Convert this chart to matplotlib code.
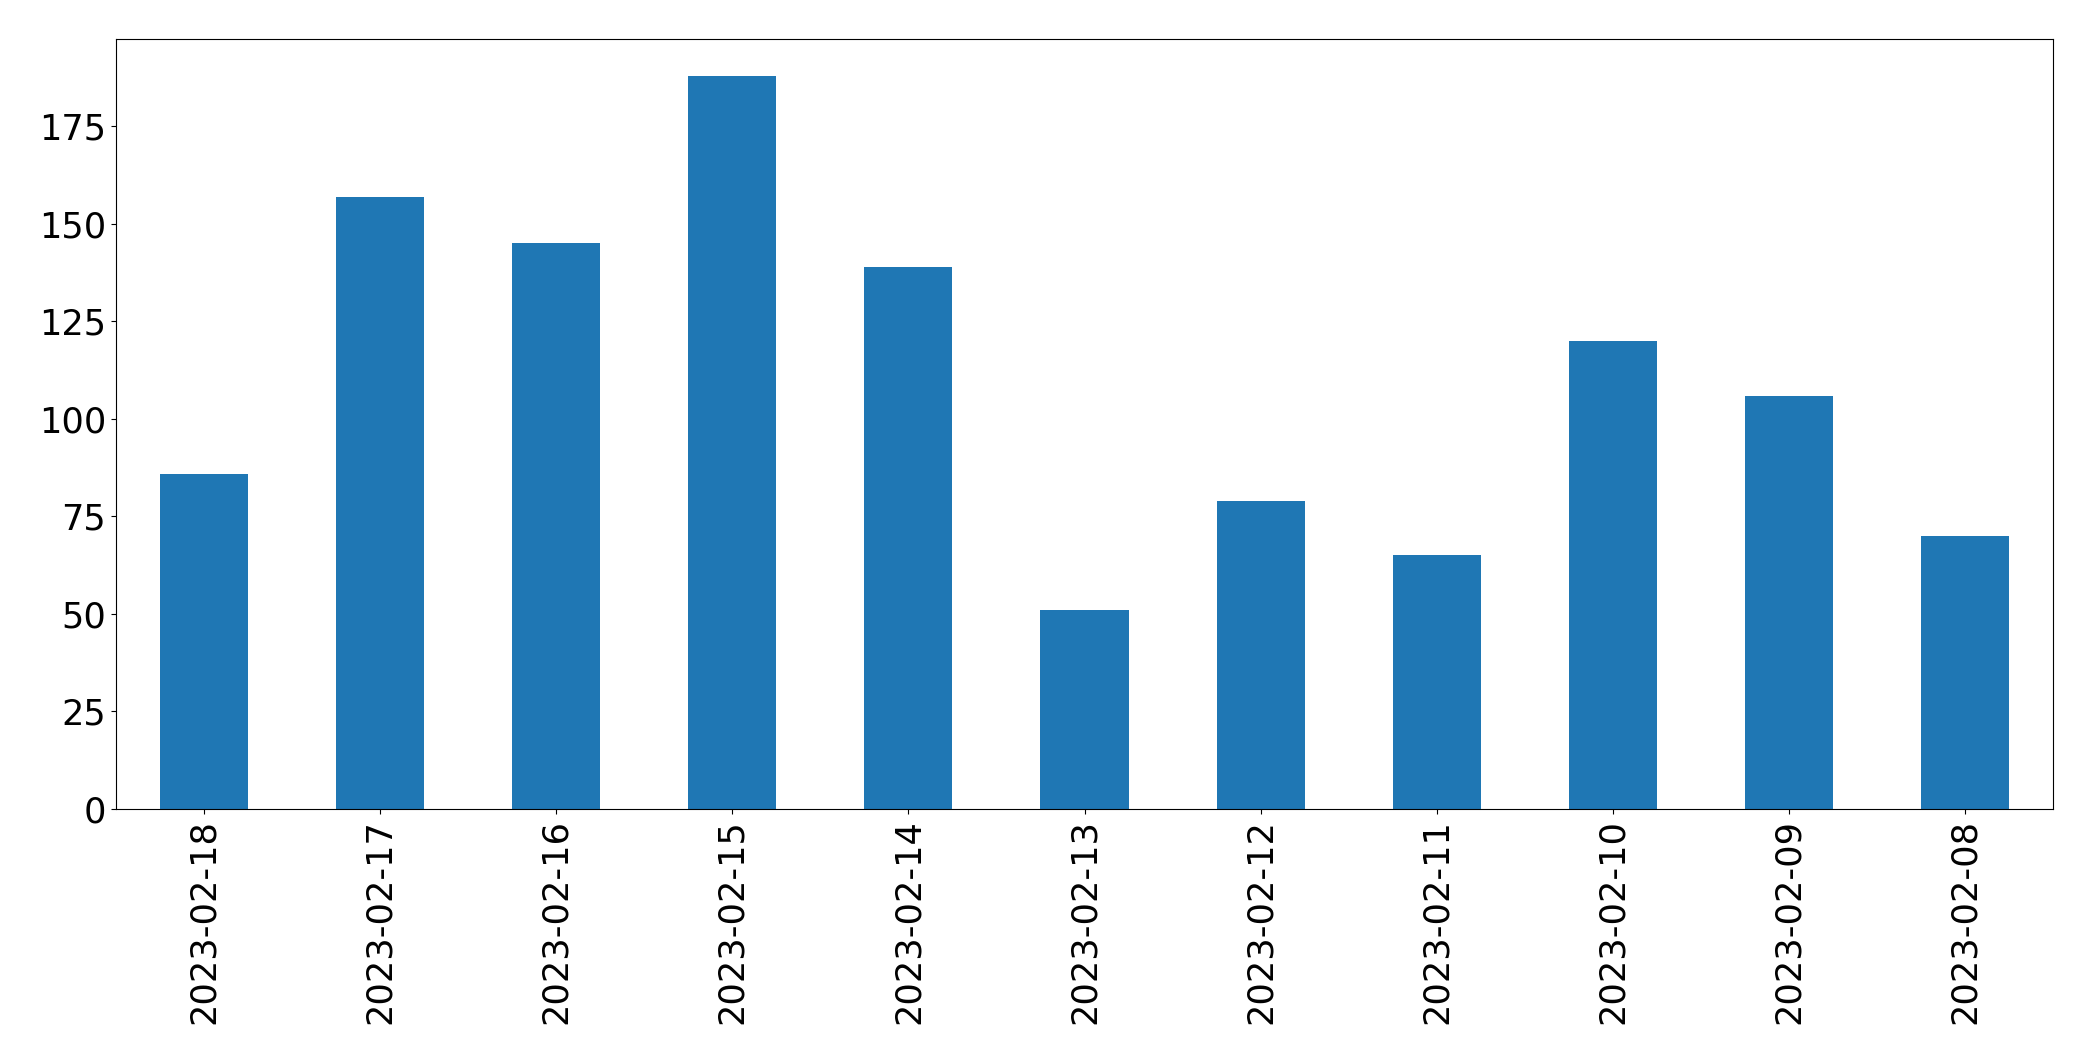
import matplotlib
matplotlib.use("Agg")
import matplotlib.pyplot as plt

# daily counts, newest first
dates = ["2023-02-18", "2023-02-17", "2023-02-16", "2023-02-15", "2023-02-14",
         "2023-02-13", "2023-02-12", "2023-02-11", "2023-02-10", "2023-02-09",
         "2023-02-08"]
counts = [86, 157, 145, 188, 139, 51, 79, 65, 120, 106, 70]

fig = plt.figure(figsize=(20.93, 10.61), dpi=100)
ax = fig.add_axes([116 / 2093, 1 - 809 / 1061, (2053 - 116) / 2093, (809 - 39) / 1061])

x = range(len(dates))
ax.bar(x, counts, width=0.5, color="#1f77b4")
ax.set_xlim(-0.5, len(dates) - 0.5)
ax.set_xticks(list(x))
ax.set_xticklabels(dates, rotation=90)
ax.tick_params(labelsize=25.3)

fig.savefig("out.png", dpi=100)
